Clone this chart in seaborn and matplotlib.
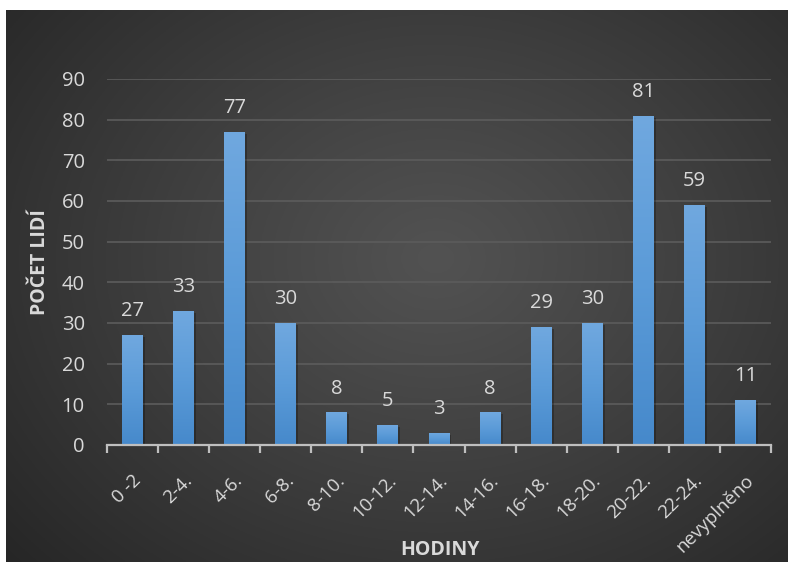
import numpy as np
import pandas as pd
import seaborn as sns
import matplotlib.pyplot as plt
from matplotlib.colors import LinearSegmentedColormap
from matplotlib.patches import Rectangle
import matplotlib.transforms as mtransforms

# Survey data: hours of the day vs. number of people
hours = ["0 -2", "2-4.", "4-6.", "6-8.", "8-10.", "10-12.", "12-14.",
         "14-16.", "16-18.", "18-20.", "20-22.", "22-24.", "nevyplněno"]
people = [27, 33, 77, 30, 8, 5, 3, 8, 29, 30, 81, 59, 11]
y_ticks = [0, 10, 20, 30, 40, 50, 60, 70, 80, 90]

df = pd.DataFrame({"hodiny": hours, "pocet": people})

sns.set_theme(style="dark")
plt.rcParams["font.family"] = ["Open Sans", "DejaVu Sans"]

W, H = 788, 562
fig = plt.figure(figsize=(W / 100, H / 100), dpi=100, facecolor="white")

# Dark radial-gradient chart background
bg = fig.add_axes([6 / W, 0, (W - 6) / W, (H - 10) / H])
bg.set_axis_off()
yy, xx = np.mgrid[0:1:300j, 0:1:400j]
r = np.sqrt(((xx - 0.55) / 0.75) ** 2 + ((yy - 0.45) / 0.85) ** 2)
r = np.clip(r, 0, 1)
c_center = np.array([0x52, 0x52, 0x52]) / 255
c_edge = np.array([0x25, 0x25, 0x25]) / 255
img = c_center[None, None, :] + (c_edge - c_center)[None, None, :] * r[..., None] ** 1.1
bg.imshow(img, extent=[0, 1, 0, 1], aspect="auto", origin="upper")
bg.set_xlim(0, 1)
bg.set_ylim(0, 1)

# Main plot area
ax = fig.add_axes([107 / W, 1 - 445 / H, 664 / W, 366 / H])
ax.patch.set_alpha(0)

sns.barplot(data=df, x="hodiny", y="pocet", ax=ax, width=0.41,
            color="#5b9bd5", saturation=1, linewidth=0, edgecolor="none",
            zorder=3)

# Vertical gradient fill and soft shadow for each bar
bar_cmap = LinearSegmentedColormap.from_list("bar", ["#4689cb", "#5b9bd8", "#70a8df"])
grad = np.linspace(0, 1, 256).reshape(-1, 1)
shadow_off = mtransforms.offset_copy(ax.transData, fig=fig, x=2, y=-2, units="dots")
for p in list(ax.patches):
    x0, w, h = p.get_x(), p.get_width(), p.get_height()
    sh = Rectangle((x0, 0), w, h, transform=shadow_off, color="black",
                   alpha=0.25, lw=0, zorder=2)
    ax.add_patch(sh)
    im = ax.imshow(grad, extent=[x0, x0 + w, 0, h], origin="lower",
                   aspect="auto", cmap=bar_cmap, zorder=4)
    im.set_clip_path(p)

ax.set_xlim(-0.5, len(hours) - 0.5)
ax.set_ylim(0, 90)
ax.set_yticks(y_ticks)

text_col = "#d9d9d9"
fs = 14.5
for cont in ax.containers:
    ax.bar_label(cont, labels=[str(v) for v in people], padding=10,
                 color=text_col, fontsize=fs, zorder=5)

ax.yaxis.grid(True, color="#5c5c5c", lw=1.2, zorder=0)
ax.xaxis.grid(False)
for s in ["top", "right", "left"]:
    ax.spines[s].set_visible(False)
ax.spines["bottom"].set_color("#bfbfbf")
ax.spines["bottom"].set_linewidth(1.6)
ax.spines["bottom"].set_zorder(6)

ax.set_xticks(np.arange(-0.5, len(hours)), minor=True)
ax.tick_params(axis="x", which="minor", length=6, width=1.6, color="#bfbfbf",
               direction="out", bottom=True)
ax.tick_params(axis="x", which="major", length=0, pad=19,
               labelsize=13.5, labelcolor=text_col)
ax.tick_params(axis="y", length=0, pad=16, labelsize=fs, labelcolor=text_col)
shift = mtransforms.ScaledTranslation(-1 / 100, 0, fig.dpi_scale_trans)
for lbl in ax.get_xticklabels():
    lbl.set_rotation(45)
    lbl.set_ha("right")
    lbl.set_va("top")
    lbl.set_rotation_mode("anchor")
    lbl.set_transform(lbl.get_transform() + shift)

ax.set_xlabel("")
ax.set_ylabel("")
fig.text(440 / W, 1 - 550 / H, "HODINY", ha="center", va="center",
         fontsize=14, fontweight="bold", color=text_col)
fig.text(40 / W, 1 - 262 / H, "POČET LIDÍ", ha="center", va="center",
         rotation=90, fontsize=14, fontweight="bold", color=text_col)

fig.savefig("out.png", dpi=100, facecolor="white")
